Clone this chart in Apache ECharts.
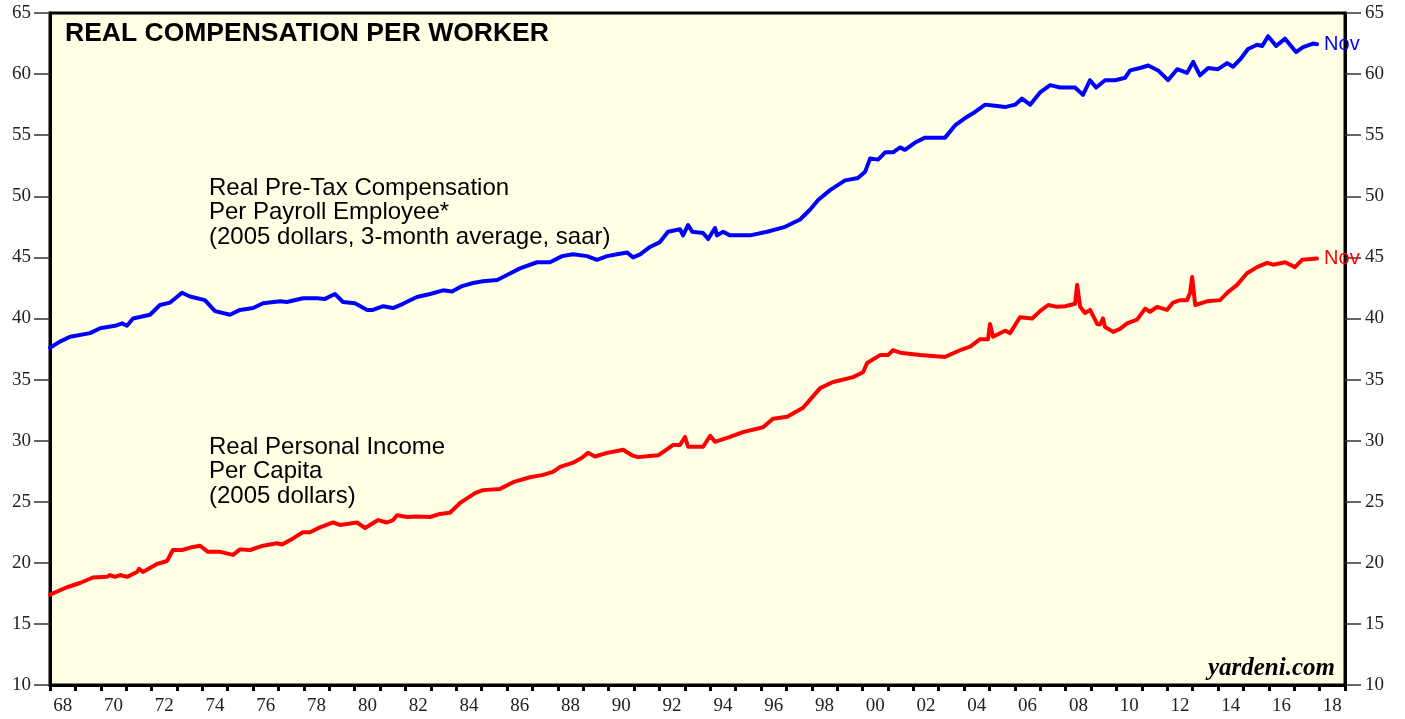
<!DOCTYPE html>
<html>
<head>
<meta charset="utf-8">
<script src="https://cdn.jsdelivr.net/npm/echarts@6/dist/echarts.min.js"></script>
<style>
  html, body { margin: 0; padding: 0; background: #fff; }
  #chart { width: 1405px; height: 719px; }
</style>
</head>
<body>
<div id="chart"></div>
<script>
// year labels for the bottom axis (one band per year, label every other year)
const yearLabels = Array.from({ length: 51 }, (_, i) => String((1968 + i) % 100).padStart(2, '0'))
const yTicks = [10, 15, 20, 25, 30, 35, 40, 45, 50, 55, 60, 65]

// Real pre-tax compensation per payroll employee (blue)
const compYears = [
  1968.00, 1968.39, 1968.79, 1969.58, 1969.97, 1970.56, 1970.84, 1971.03, 1971.27, 1971.94,
  1972.33, 1972.73, 1973.20, 1973.51, 1974.10, 1974.50, 1975.09, 1975.48, 1976.00, 1976.39,
  1977.06, 1977.33, 1977.96, 1978.52, 1978.83, 1979.22, 1979.54, 1980.01, 1980.49, 1980.72,
  1981.12, 1981.51, 1981.90, 1982.45, 1982.97, 1983.48, 1983.83, 1984.23, 1984.66, 1985.05,
  1985.61, 1986.00, 1986.51, 1987.18, 1987.69, 1988.17, 1988.60, 1989.15, 1989.54, 1989.94,
  1990.33, 1990.73, 1990.96, 1991.24, 1991.63, 1992.02, 1992.34, 1992.81, 1992.93, 1993.13,
  1993.29, 1993.72, 1993.92, 1994.19, 1994.27, 1994.51, 1994.78, 1995.57, 1996.24, 1996.95,
  1997.54, 1997.93, 1998.25, 1998.72, 1999.31, 1999.82, 2000.10, 2000.30, 2000.61, 2000.89,
  2001.20, 2001.48, 2001.67, 2002.07, 2002.46, 2003.25, 2003.64, 2004.04, 2004.43, 2004.83,
  2005.22, 2005.61, 2006.01, 2006.28, 2006.60, 2006.99, 2007.39, 2007.78, 2008.37, 2008.68,
  2008.96, 2009.20, 2009.55, 2009.95, 2010.34, 2010.54, 2010.93, 2011.25, 2011.64, 2012.03,
  2012.39, 2012.78, 2013.02, 2013.29, 2013.61, 2014.00, 2014.36, 2014.59, 2014.87, 2015.18,
  2015.54, 2015.74, 2015.97, 2016.29, 2016.64, 2017.07, 2017.35, 2017.74, 2017.90
]
const compValues = [
  37.6, 38.1, 38.5, 38.8, 39.2, 39.4, 39.6, 39.4, 40.0, 40.3,
  41.1, 41.3, 42.1, 41.8, 41.5, 40.6, 40.3, 40.7, 40.85, 41.25,
  41.4, 41.35, 41.65, 41.65, 41.6, 42.0, 41.35, 41.25, 40.7, 40.7,
  41.0, 40.85, 41.2, 41.75, 42.0, 42.3, 42.2, 42.65, 42.9, 43.05,
  43.15, 43.55, 44.1, 44.6, 44.6, 45.1, 45.25, 45.1, 44.8, 45.1,
  45.25, 45.4, 45.0, 45.25, 45.85, 46.25, 47.1, 47.3, 46.8, 47.65,
  47.1, 47.0, 46.5, 47.4, 46.8, 47.1, 46.8, 46.8, 47.1, 47.5,
  48.1, 48.9, 49.7, 50.5, 51.3, 51.5, 52.0, 53.1, 53.0, 53.6,
  53.6, 54.0, 53.8, 54.4, 54.8, 54.8, 55.8, 56.4, 56.9, 57.5,
  57.4, 57.3, 57.5, 58.0, 57.5, 58.5, 59.1, 58.9, 58.9, 58.3,
  59.5, 58.9, 59.5, 59.5, 59.7, 60.3, 60.5, 60.7, 60.3, 59.5,
  60.4, 60.1, 61.0, 59.9, 60.5, 60.4, 60.9, 60.6, 61.2, 62.05,
  62.4, 62.3, 63.1, 62.3, 62.9, 61.8, 62.2, 62.5, 62.45
]

// Real personal income per capita (red)
const incomeYears = [
  1968.00, 1968.67, 1969.18, 1969.69, 1970.24, 1970.36, 1970.56, 1970.76, 1971.03, 1971.43,
  1971.51, 1971.66, 1972.21, 1972.61, 1972.84, 1973.20, 1973.63, 1973.91, 1974.22, 1974.70,
  1975.21, 1975.48, 1975.88, 1976.39, 1976.94, 1977.14, 1977.57, 1977.96, 1978.24, 1978.63,
  1979.15, 1979.42, 1980.09, 1980.41, 1980.92, 1981.27, 1981.51, 1981.67, 1982.06, 1982.45,
  1982.97, 1983.36, 1983.75, 1984.15, 1984.74, 1985.05, 1985.72, 1986.24, 1986.90, 1987.42,
  1987.81, 1988.09, 1988.60, 1988.95, 1989.19, 1989.46, 1989.94, 1990.33, 1990.57, 1990.92,
  1991.16, 1991.63, 1991.95, 1992.31, 1992.54, 1992.81, 1993.01, 1993.13, 1993.72, 1994.00,
  1994.19, 1994.78, 1995.29, 1996.08, 1996.48, 1997.03, 1997.66, 1998.33, 1998.84, 1999.63,
  2000.02, 2000.18, 2000.69, 2001.00, 2001.20, 2001.48, 2002.27, 2003.25, 2003.84, 2004.24,
  2004.63, 2004.94, 2005.02, 2005.14, 2005.61, 2005.81, 2006.20, 2006.68, 2006.99, 2007.31,
  2007.66, 2007.98, 2008.37, 2008.45, 2008.57, 2008.76, 2008.96, 2009.24, 2009.35, 2009.47,
  2009.55, 2009.87, 2010.14, 2010.42, 2010.81, 2011.13, 2011.32, 2011.60, 2011.99, 2012.23,
  2012.51, 2012.78, 2012.90, 2012.98, 2013.10, 2013.57, 2014.08, 2014.36, 2014.75, 2015.14,
  2015.54, 2015.93, 2016.17, 2016.64, 2017.03, 2017.31, 2017.90
]
const incomeValues = [
  17.4, 18.0, 18.35, 18.8, 18.85, 19.0, 18.85, 19.0, 18.85, 19.25,
  19.5, 19.25, 19.9, 20.15, 21.05, 21.05, 21.3, 21.4, 20.9, 20.9,
  20.65, 21.1, 21.05, 21.4, 21.6, 21.5, 22.0, 22.5, 22.5, 22.9,
  23.3, 23.1, 23.3, 22.85, 23.5, 23.3, 23.5, 23.9, 23.75, 23.8,
  23.75, 24.0, 24.1, 24.9, 25.7, 25.95, 26.05, 26.6, 27.0, 27.2,
  27.45, 27.85, 28.2, 28.6, 29.0, 28.7, 29.0, 29.15, 29.25, 28.8,
  28.65, 28.75, 28.8, 29.3, 29.65, 29.65, 30.3, 29.5, 29.5, 30.4,
  29.9, 30.3, 30.7, 31.1, 31.8, 31.95, 32.7, 34.3, 34.8, 35.2,
  35.6, 36.35, 37.0, 37.0, 37.4, 37.2, 37.0, 36.85, 37.4, 37.7,
  38.3, 38.3, 39.55, 38.5, 39.0, 38.8, 40.1, 40.0, 40.6, 41.1,
  40.95, 41.0, 41.2, 42.75, 40.95, 40.45, 40.7, 39.55, 39.5, 40.0,
  39.3, 38.9, 39.15, 39.6, 39.9, 40.8, 40.55, 40.95, 40.7, 41.3,
  41.5, 41.5, 42.1, 43.4, 41.1, 41.4, 41.5, 42.1, 42.75, 43.7,
  44.2, 44.55, 44.4, 44.6, 44.2, 44.8, 44.9
]

const chart = echarts.init(document.getElementById('chart'))

const serifLabel = {
  fontFamily: 'Liberation Serif',
  fontSize: 19,
  color: '#222'
}

function yAxisSide(pos) {
  return {
    type: 'value',
    position: pos,
    min: yTicks[0],
    max: yTicks[yTicks.length - 1],
    interval: 5,
    axisLine: { show: true, lineStyle: { color: '#000', width: 3 } },
    axisTick: { show: true, length: 16, lineStyle: { color: '#333', width: 1.5 } },
    axisLabel: { ...serifLabel, margin: pos === 'left' ? 19 : 20 },
    splitLine: { show: false }
  }
}

chart.setOption({
  animation: false,
  title: {
    text: 'REAL COMPENSATION PER WORKER',
    left: 60,
    top: 15,
    textStyle: {
      fontFamily: 'Liberation Sans',
      fontWeight: 'bold',
      fontSize: 26.5,
      color: '#000'
    }
  },
  grid: {
    left: 50,
    right: 60,
    top: 13,
    bottom: 34,
    show: true,
    backgroundColor: '#ffffe6',
    borderColor: '#000',
    borderWidth: 3
  },
  xAxis: [{
    type: 'value',
    min: 1968,
    max: 2019,
    show: false
  }, {
    type: 'category',
    position: 'bottom',
    data: yearLabels,
    boundaryGap: true,
    axisLine: { show: true, lineStyle: { color: '#000', width: 3 } },
    axisTick: { show: true, interval: 0, length: 6, lineStyle: { color: '#000', width: 3 } },
    axisLabel: { ...serifLabel, interval: 1, margin: 12 },
    splitLine: { show: false }
  }],
  yAxis: [yAxisSide('left'), yAxisSide('right')],
  graphic: [{
    type: 'text',
    x: 209,
    y: 176,
    style: {
      text: 'Real Pre-Tax Compensation\nPer Payroll Employee*\n(2005 dollars, 3-month average, saar)',
      font: '24px "Liberation Sans"',
      fill: '#000',
      lineHeight: 24.5
    }
  }, {
    type: 'text',
    x: 209,
    y: 435,
    style: {
      text: 'Real Personal Income\nPer Capita\n(2005 dollars)',
      font: '24px "Liberation Sans"',
      fill: '#000',
      lineHeight: 24.5
    }
  }, {
    type: 'text',
    x: 1335,
    y: 669,
    style: {
      text: 'yardeni.com',
      font: 'italic bold 25px "Liberation Serif"',
      fill: '#000',
      textAlign: 'right',
      textVerticalAlign: 'middle'
    }
  }],
  series: [{
    name: 'Real Pre-Tax Compensation',
    type: 'line',
    xAxisIndex: 0,
    yAxisIndex: 0,
    data: compYears.map((t, i) => [t, compValues[i]]),
    showSymbol: false,
    lineStyle: { color: '#0000ff', width: 4, join: 'round', cap: 'round' },
    itemStyle: { color: '#0000ff' },
    endLabel: {
      show: true,
      formatter: 'Nov',
      color: '#0000ff',
      fontFamily: 'Liberation Sans',
      fontSize: 20,
      distance: 7
    }
  }, {
    name: 'Real Personal Income',
    type: 'line',
    xAxisIndex: 0,
    yAxisIndex: 0,
    data: incomeYears.map((t, i) => [t, incomeValues[i]]),
    showSymbol: false,
    lineStyle: { color: '#ff0000', width: 4, join: 'round', cap: 'round' },
    itemStyle: { color: '#ff0000' },
    endLabel: {
      show: true,
      formatter: 'Nov',
      color: '#ff0000',
      fontFamily: 'Liberation Sans',
      fontSize: 20,
      distance: 7
    }
  }]
})
</script>
</body>
</html>
